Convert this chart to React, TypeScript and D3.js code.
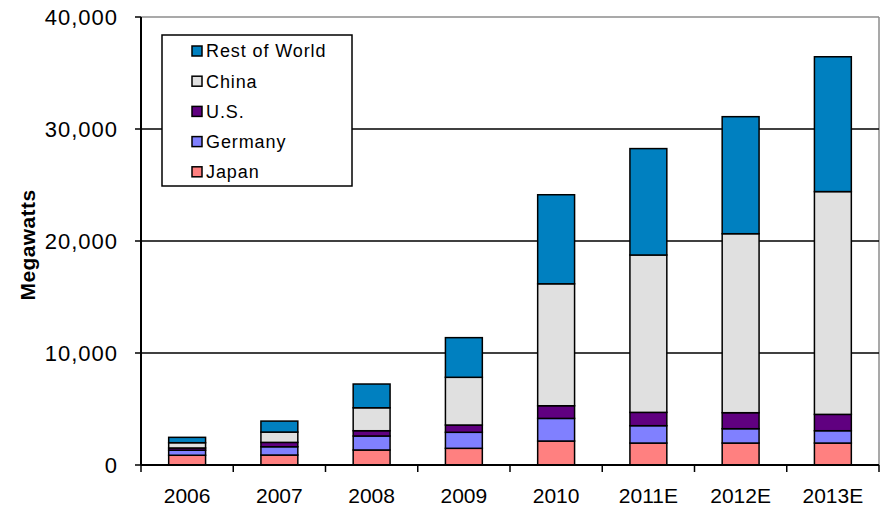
import React from "react";
import * as d3 from "d3";

const categories = ["2006", "2007", "2008", "2009", "2010", "2011E", "2012E", "2013E"];
const japan = [870, 890, 1340, 1490, 2140, 1960, 1960, 1960];
const germany = [450, 740, 1250, 1430, 2020, 1550, 1280, 1100];
const us = [200, 390, 470, 650, 1130, 1190, 1430, 1460];
const china = [470, 920, 2050, 4260, 10890, 14050, 15980, 19890];
const rest = [480, 980, 2120, 3540, 7950, 9500, 10450, 12040];
const yTicks = [0, 10000, 20000, 30000, 40000];

const seriesNames = ["Japan", "Germany", "U.S.", "China", "Rest of World"];
const seriesValues = [japan, germany, us, china, rest];
const seriesColors = ["#FF8080", "#8080FF", "#600080", "#E0E0E0", "#0080C0"];

const W = 883;
const H = 508;
const left = 141;
const right = 879;
const top = 17;
const bottom = 465;

export default function App() {
  const x = d3.scaleBand<string>().domain(categories).range([left, right]).paddingInner(0.6).paddingOuter(0.3);
  const xb = d3.scaleBand<string>().domain(categories).range([left, right]);
  const y = d3.scaleLinear().domain([0, 40000]).range([bottom, top]);

  const table = categories.map((c, i) => {
    const row: any = { cat: c };
    seriesNames.forEach((s, k) => (row[s] = seriesValues[k][i]));
    return row;
  });
  const stacked = d3.stack().keys(seriesNames)(table);
  const fmt = d3.format(",");
  const font = "Arial, 'Liberation Sans', sans-serif";
  const legendOrder = [4, 3, 2, 1, 0];

  return (
    <svg width={W} height={H} style={{ position: "absolute", left: 0, top: 0, background: "#fff" }} fontFamily={font}>
      <rect x={0} y={0} width={W} height={H} fill="#fff" />
      {/* plot border */}
      <line x1={left} x2={right} y1={y(40000)} y2={y(40000)} stroke="#8c8c8c" strokeWidth={1.5} />
      <line x1={right} x2={right} y1={y(40000)} y2={bottom} stroke="#8c8c8c" strokeWidth={1.5} />
      {/* gridlines */}
      {yTicks.filter((t) => t > 0 && t < 40000).map((t) => (
        <line key={t} x1={left} x2={right} y1={y(t)} y2={y(t)} stroke="#000" strokeWidth={1.5} />
      ))}
      {/* bars */}
      {stacked.map((layer, k) => (
        <g key={layer.key}>
          {layer.map((d, i) => (
            <rect
              key={i}
              x={x(categories[i])}
              width={x.bandwidth()}
              y={y(d[1])}
              height={y(d[0]) - y(d[1])}
              fill={seriesColors[k]}
              stroke="#000"
              strokeWidth={1.5}
            />
          ))}
        </g>
      ))}
      {/* axes */}
      <line x1={left} x2={left} y1={y(40000)} y2={bottom} stroke="#000" strokeWidth={2} />
      <line x1={left} x2={right} y1={bottom} y2={bottom} stroke="#000" strokeWidth={2} />
      {yTicks.map((t) => (
        <g key={t}>
          <line x1={left - 6} x2={left} y1={y(t)} y2={y(t)} stroke="#000" strokeWidth={1.5} />
          <text x={118} y={y(t)} dy="0.36em" textAnchor="end" fontSize={22} fill="#000" letterSpacing={1}>
            {fmt(t)}
          </text>
        </g>
      ))}
      {categories.map((c, i) => (
        <line key={"t" + c} x1={xb(c)!} x2={xb(c)!} y1={bottom} y2={bottom + 7} stroke="#000" strokeWidth={1.5} />
      ))}
      <line x1={right} x2={right} y1={bottom} y2={bottom + 7} stroke="#000" strokeWidth={1.5} />
      {categories.map((c) => (
        <text key={"l" + c} x={xb(c)! + xb.bandwidth() / 2} y={503} textAnchor="middle" fontSize={21} fill="#000">
          {c}
        </text>
      ))}
      <text
        transform={`translate(35,${(top + bottom) / 2 + 4}) rotate(-90)`}
        textAnchor="middle"
        fontSize={21}
        fontWeight="bold"
        fill="#000"
        letterSpacing={0.4}
      >
        Megawatts
      </text>
      {/* legend */}
      <rect x={162} y={35} width={190} height={151} fill="#fff" stroke="#000" strokeWidth={1.5} />
      {legendOrder.map((k, j) => (
        <g key={seriesNames[k]} transform={`translate(0,${51 + j * 30.2})`}>
          <rect x={192} y={-5} width={10} height={10} fill={seriesColors[k]} stroke="#000" strokeWidth={1.5} />
          <text x={206} y={0} dy="0.36em" fontSize={18} fill="#000" letterSpacing={0.9}>
            {seriesNames[k]}
          </text>
        </g>
      ))}
    </svg>
  );
}
